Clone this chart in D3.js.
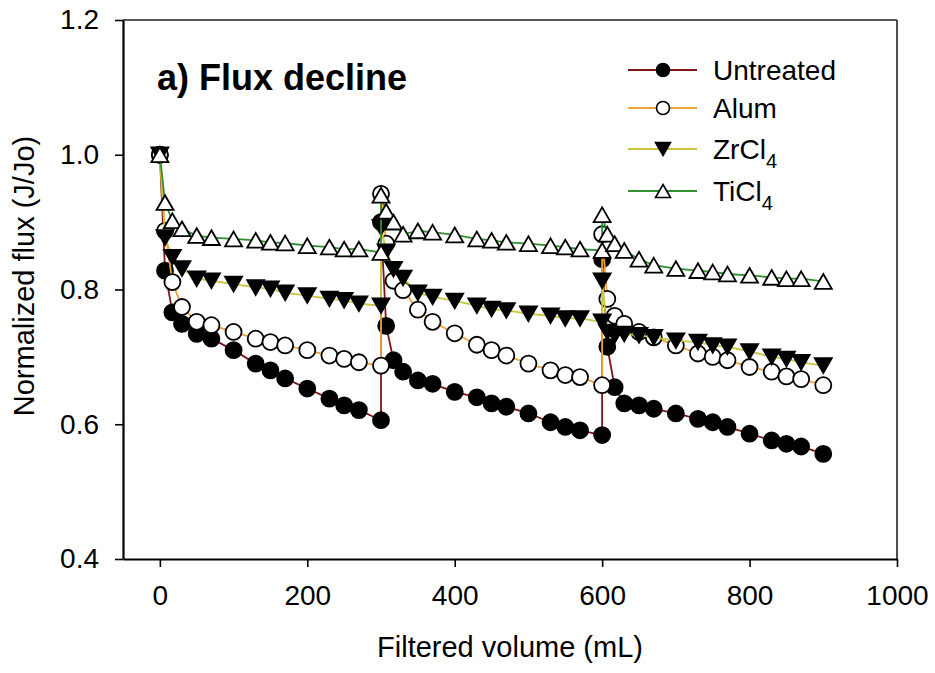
<!DOCTYPE html>
<html>
<head>
<meta charset="utf-8">
<script src="https://cdn.jsdelivr.net/npm/d3@7"></script>
<style>
  body { margin: 0; background: #fff; }
  text { font-family: "Liberation Sans", Arial, sans-serif; }
</style>
</head>
<body>
<svg id="chart" width="935" height="673"></svg>
<script>
// Filtered volume (mL) - three filtration cycles, restart at 300 and 600
var volume = [0, 7, 17, 30, 50, 70, 100, 130, 150, 170, 200, 230, 250, 270, 300,
  300, 307, 317, 330, 350, 370, 400, 430, 450, 470, 500, 530, 550, 570, 600,
  600, 607, 617, 630, 650, 670, 700, 730, 750, 770, 800, 830, 850, 870, 900];

var untreated = [1.0, 0.828, 0.766, 0.749, 0.734, 0.727, 0.710, 0.690, 0.680, 0.668, 0.653, 0.638, 0.628, 0.621, 0.606,
  0.900, 0.746, 0.695, 0.678, 0.665, 0.660, 0.648, 0.640, 0.631, 0.626, 0.616, 0.603, 0.596, 0.591, 0.584,
  0.845, 0.715, 0.655, 0.631, 0.628, 0.623, 0.616, 0.608, 0.603, 0.596, 0.586, 0.576, 0.571, 0.567, 0.556];

var alum = [1.0, 0.887, 0.811, 0.774, 0.752, 0.747, 0.737, 0.727, 0.722, 0.717, 0.710, 0.702, 0.697, 0.692, 0.687,
  0.942, 0.868, 0.813, 0.799, 0.770, 0.752, 0.735, 0.718, 0.710, 0.702, 0.690, 0.680, 0.673, 0.670, 0.658,
  0.882, 0.786, 0.761, 0.749, 0.737, 0.729, 0.717, 0.705, 0.700, 0.695, 0.685, 0.678, 0.671, 0.667, 0.658];

var zrcl4 = [1.0, 0.877, 0.848, 0.831, 0.816, 0.813, 0.808, 0.803, 0.801, 0.795, 0.791, 0.786, 0.784, 0.779, 0.776,
  0.892, 0.856, 0.830, 0.817, 0.795, 0.789, 0.783, 0.776, 0.771, 0.769, 0.764, 0.761, 0.757, 0.757, 0.752,
  0.813, 0.737, 0.732, 0.734, 0.732, 0.729, 0.724, 0.722, 0.717, 0.715, 0.708, 0.700, 0.697, 0.692, 0.687];

var ticl4 = [1.0, 0.929, 0.902, 0.890, 0.880, 0.877, 0.875, 0.873, 0.870, 0.869, 0.865, 0.863, 0.860, 0.860, 0.855,
  0.940, 0.916, 0.900, 0.882, 0.887, 0.885, 0.881, 0.875, 0.873, 0.870, 0.868, 0.865, 0.863, 0.860, 0.858,
  0.911, 0.882, 0.868, 0.858, 0.845, 0.836, 0.831, 0.828, 0.826, 0.823, 0.821, 0.818, 0.816, 0.816, 0.812];

var xTicks = [0, 200, 400, 600, 800, 1000];
var yTicks = [0.4, 0.6, 0.8, 1.0, 1.2];

var series = [
  { name: "Untreated", sub: "", values: untreated, color: "#801515", marker: "circle", fill: "#000" },
  { name: "Alum", sub: "", values: alum, color: "#eea23a", marker: "circle", fill: "#fff" },
  { name: "ZrCl", sub: "4", values: zrcl4, color: "#c9c43a", marker: "down", fill: "#000" },
  { name: "TiCl", sub: "4", values: ticl4, color: "#2f8f2f", marker: "up", fill: "#fff" }
];

var plot = { left: 123, right: 897, top: 20, bottom: 559 };

var svg = d3.select("#chart");

var xScale = d3.scaleLinear().domain([-50, 1000]).range([plot.left, plot.right]);
var yScale = d3.scaleLinear().domain([0.4, 1.2]).range([plot.bottom, plot.top]);

// marker path centered on (0,0)
function markerPath(type, size) {
  if (type == "circle") {
    var r = size / 2;
    return "M" + r + ",0A" + r + "," + r + " 0 1,1 " + (-r) + ",0A" + r + "," + r + " 0 1,1 " + r + ",0Z";
  }
  var s = size, h = s * 0.866;
  if (type == "up") {
    return "M0," + (-h / 2) + "L" + (s / 2) + "," + (h / 2) + "L" + (-s / 2) + "," + (h / 2) + "Z";
  }
  return "M0," + (h / 2) + "L" + (s / 2) + "," + (-h / 2) + "L" + (-s / 2) + "," + (-h / 2) + "Z";
}

// frame top / right
svg.append("line").attr("x1", plot.left).attr("x2", plot.right).attr("y1", plot.top).attr("y2", plot.top)
  .attr("stroke", "#222").attr("stroke-width", 1.6);
svg.append("line").attr("x1", plot.right).attr("x2", plot.right).attr("y1", plot.top).attr("y2", plot.bottom)
  .attr("stroke", "#222").attr("stroke-width", 1.6);

// axes
var xAxis = d3.axisBottom(xScale).tickValues(xTicks).tickSize(8).tickSizeOuter(0).tickPadding(18)
  .tickFormat(d3.format("d"));
var yAxis = d3.axisLeft(yScale).tickValues(yTicks).tickSize(8).tickSizeOuter(0).tickPadding(16)
  .tickFormat(d3.format(".1f"));

var gx = svg.append("g").attr("transform", "translate(0," + plot.bottom + ")").call(xAxis);
var gy = svg.append("g").attr("transform", "translate(" + plot.left + ",0)").call(yAxis);

[gx, gy].forEach(function (g) {
  g.select(".domain").attr("stroke", "#000").attr("stroke-width", 2.2);
  g.selectAll(".tick line").attr("stroke", "#000").attr("stroke-width", 1.6);
  g.selectAll(".tick text").attr("fill", "#000").style("font-size", "28px")
    .style("font-family", "'Liberation Sans', Arial, sans-serif");
});

// axis titles
svg.append("text")
  .attr("x", (plot.left + plot.right) / 2).attr("y", 657)
  .attr("text-anchor", "middle").style("font-size", "29px")
  .text("Filtered volume (mL)");

svg.append("text")
  .attr("transform", "translate(34,276) rotate(-90)")
  .attr("text-anchor", "middle").style("font-size", "29px")
  .text("Normalized flux (J/Jo)");

// panel title
svg.append("text")
  .attr("x", 157).attr("y", 90)
  .style("font-size", "36px").style("font-weight", "bold")
  .text("a) Flux decline");

// lines and markers
var line = d3.line()
  .x(function (d) { return xScale(d.x); })
  .y(function (d) { return yScale(d.y); });

series.forEach(function (s) {
  var pts = s.values.map(function (v, i) { return { x: volume[i], y: v }; });
  var g = svg.append("g").attr("class", "series");
  g.append("path")
    .attr("d", line(pts))
    .attr("fill", "none")
    .attr("stroke", s.color)
    .attr("stroke-width", 1.8);
  g.selectAll("path.mark")
    .data(pts).enter()
    .append("path")
    .attr("class", "mark")
    .attr("transform", function (d) { return "translate(" + xScale(d.x) + "," + yScale(d.y) + ")"; })
    .attr("d", markerPath(s.marker, s.marker == "circle" ? 16 : 17))
    .attr("fill", s.fill)
    .attr("stroke", "#000")
    .attr("stroke-width", 1.8);
});

// legend
var legendY = [70, 108, 149, 191];
var legend = svg.append("g");
series.forEach(function (s, i) {
  var y = legendY[i];
  legend.append("line").attr("x1", 628).attr("x2", 697).attr("y1", y).attr("y2", y)
    .attr("stroke", s.color).attr("stroke-width", 1.8);
  legend.append("path")
    .attr("transform", "translate(663," + y + ")")
    .attr("d", markerPath(s.marker, s.marker == "circle" ? 13 : 15))
    .attr("fill", s.fill).attr("stroke", "#000").attr("stroke-width", 1.6);
  var t = legend.append("text").attr("x", 713).attr("y", y + 10).style("font-size", "28px");
  t.append("tspan").text(s.name);
  if (s.sub) {
    t.append("tspan").attr("dy", 9).style("font-size", "20px").text(s.sub);
  }
});
</script>
</body>
</html>
